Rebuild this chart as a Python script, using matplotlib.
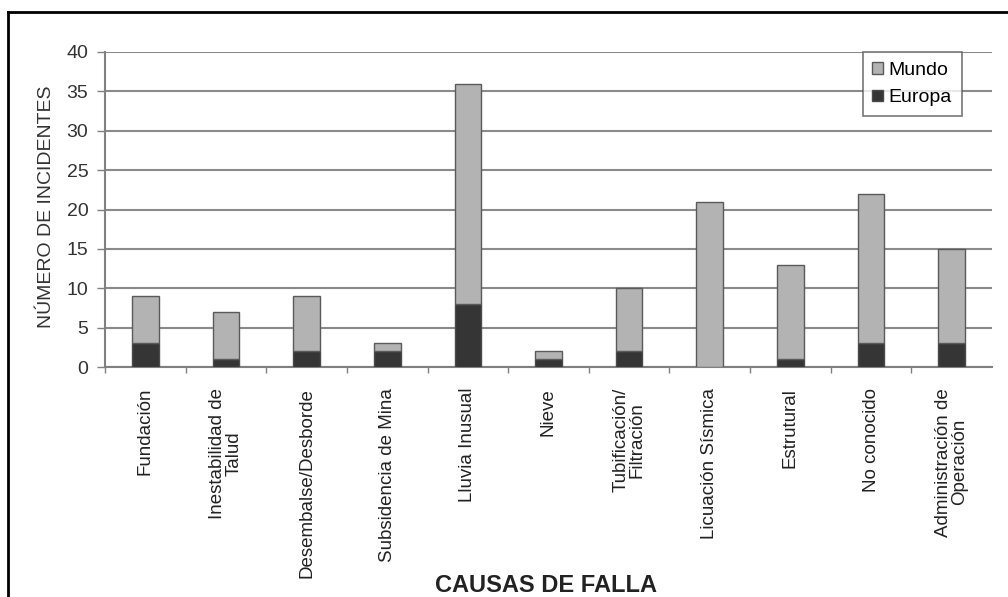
import matplotlib.pyplot as plt
from matplotlib.lines import Line2D

plt.rcParams['font.family'] = ['Liberation Sans', 'DejaVu Sans']

causas = [
    "Fundación",
    "Inestabilidad de\nTalud",
    "Desembalse/Desborde",
    "Subsidencia de Mina",
    "Lluvia Inusual",
    "Nieve",
    "Tubificación/\nFiltración",
    "Licuación Sísmica",
    "Estrutural",
    "No conocido",
    "Administración de\nOperación",
]
# totales (altura de la barra) y parte europea
mundo_total = [9, 7, 9, 3, 36, 2, 10, 21, 13, 22, 15]
europa = [3, 1, 2, 2, 8, 1, 2, 0, 1, 3, 3]
mundo_resto = [t - e for t, e in zip(mundo_total, europa)]

x = list(range(len(causas)))

fig = plt.figure(figsize=(10.08, 5.97), dpi=100)
ax = fig.add_axes([105 / 1008, 1 - 367 / 597, 887 / 1008, 315 / 597])

w = 0.33
ax.bar(x, europa, width=w, color="#353535", edgecolor="#4a4a4a", linewidth=1, label="Europa", zorder=3)
ax.bar(x, mundo_resto, width=w, bottom=europa, color="#b3b3b3", edgecolor="#5a5a5a",
       linewidth=1, label="Mundo", zorder=3)

ax.set_xlim(-0.5, len(causas) - 0.5)
ax.set_ylim(0, 40)
ax.set_yticks(range(0, 41, 5))
ax.yaxis.grid(True, color="#8a8a8a", linewidth=1.5, zorder=0)

# etiquetas de categoria en el centro, marcas en los limites
ax.set_xticks(x)
ax.set_xticklabels(causas, rotation=90, ha="center", va="top", fontsize=13.5,
                   color="#222222", multialignment="center", linespacing=0.95)
ax.tick_params(axis="x", which="major", length=0, pad=15)
ax.set_xticks([i - 0.5 for i in x], minor=True)
ax.tick_params(axis="x", which="minor", length=4, color="#808080", width=1)
ax.tick_params(axis="y", length=6, color="#808080", width=1, labelsize=14,
               labelcolor="#333333", pad=6)

for s in ["top", "right"]:
    ax.spines[s].set_visible(False)
for s in ["left", "bottom"]:
    ax.spines[s].set_color("#808080")
    ax.spines[s].set_linewidth(1.5)

ax.set_ylabel("NÚMERO DE INCIDENTES", fontsize=14, color="#333333")
ax.yaxis.set_label_coords(-0.056, 0.508)

handles, labels = ax.get_legend_handles_labels()
leg = ax.legend(handles[::-1], labels[::-1], loc="upper right", bbox_to_anchor=(0.966, 1.0),
                borderaxespad=0, fontsize=14, frameon=True, fancybox=False,
                handlelength=0.55, handleheight=0.55, handletextpad=0.3,
                labelspacing=0.55, borderpad=0.5)
leg.get_frame().set_edgecolor("#555555")
leg.get_frame().set_linewidth(1.2)

fig.text(546 / 1008, 1 - 585 / 597, "CAUSAS DE FALLA", ha="center", va="center",
         fontsize=17, fontweight="bold", color="#222222")

# marco exterior de la figura
fig.add_artist(Line2D([8 / 1008, 8 / 1008], [0, 1 - 12 / 597], transform=fig.transFigure,
                      color="black", linewidth=2))
fig.add_artist(Line2D([8 / 1008, 1], [1 - 12 / 597, 1 - 12 / 597], transform=fig.transFigure,
                      color="black", linewidth=2))

fig.savefig("out.png", dpi=100)
